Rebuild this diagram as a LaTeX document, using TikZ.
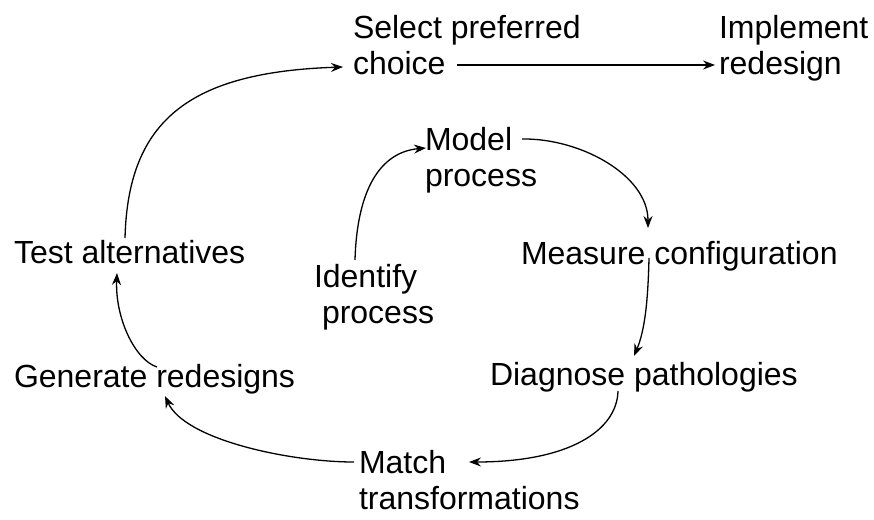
\documentclass[tikz,border=0pt]{standalone}
\usepackage{fontspec}
\setmainfont{Liberation Sans}
\usetikzlibrary{arrows.meta,calc}
\tikzset{
  lbl/.style={anchor=base west, inner sep=0pt, outer sep=0pt, font=\fontsize{32}{36}\selectfont},
  conn/.style={line width=1.3pt, -{Stealth[length=12pt,width=9pt,inset=4pt]}}
}
\newcommand{\twolines}[2]{\begin{tabular}[t]{@{}l@{}}#1\\#2\end{tabular}}
\begin{document}
\begin{tikzpicture}[x=1pt,y=-1pt]
\useasboundingbox (0,0) rectangle (874,519);
% nodes
\node[lbl] (sel)   at (353,38)  {\twolines{Select preferred}{choice}};
\node[lbl] (impl)  at (719,38)  {\twolines{Implement}{redesign}};
\node[lbl] (model) at (425,150) {\twolines{Model}{process}};
\node[lbl] (ident) at (314,287) {\twolines{Identify}{\hspace*{8pt}process}};
\node[lbl] (test)  at (14,263)  {Test alternatives};
\node[lbl] (meas)  at (521,264) {Measure configuration};
\node[lbl] (gen)   at (14,387)  {Generate redesigns};
\node[lbl] (diag)  at (490,385) {Diagnose pathologies};
\node[lbl] (match) at (359,473) {\twolines{Match}{transformations}};
% connectors
\draw[conn] ($(sel.base west)+(104,27)$) -- ($(impl.base west)+(-4,27)$);
\draw[conn] ($(test.base west)+(111,-25)$) .. controls (128,120) and (190,72) .. ($(sel.base west)+(-10,29)$);
\draw[conn] ($(ident.base west)+(41,-27)$) .. controls (357,190) and (380,152) .. ($(model.base west)+(1,-2)$);
\draw[conn] ($(model.base west)+(97,-11)$) .. controls (580,138) and (648,175) .. ($(meas.base west)+(127,-36)$);
\draw[conn] ($(meas.base west)+(128,-6)$) .. controls (648,300) and (645,330) .. ($(diag.base west)+(144,-29)$);
\draw[conn] ($(diag.base west)+(128,6)$) .. controls (617,430) and (570,462) .. ($(match.base west)+(110,-11)$);
\draw[conn] ($(match.base west)+(-5,-11)$) .. controls (290,462) and (185,440) .. ($(gen.base west)+(151,9)$);
\draw[conn] ($(gen.base west)+(143,-20)$) .. controls (135,360) and (115,318) .. ($(test.base west)+(103,10)$);
\end{tikzpicture}
\end{document}
